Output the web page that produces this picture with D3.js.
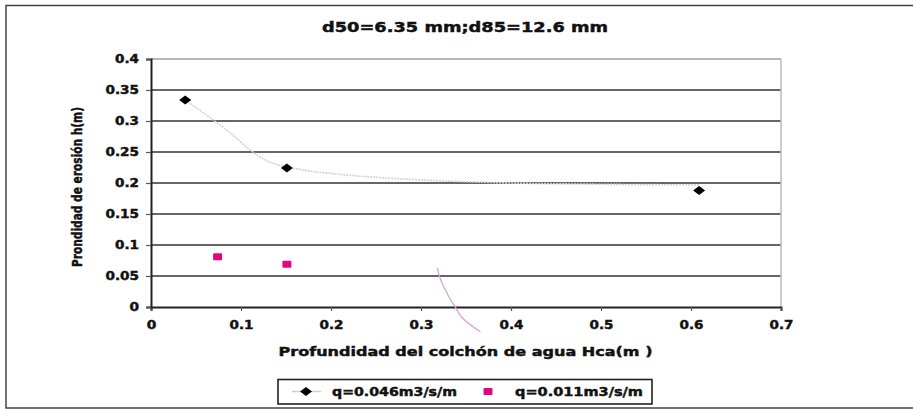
<!DOCTYPE html>
<html><head><meta charset="utf-8">
<script src="https://cdn.jsdelivr.net/npm/d3@7"></script>
<style>body{margin:0;background:#fff}svg{display:block}</style>
</head><body>
<svg id="c" width="913" height="409"></svg>
<script>
// ---- data ----
const title = "d50=6.35 mm;d85=12.6 mm";
const xTitle = "Profundidad del colchón de agua Hca(m )";
const yTitle = "Prondidad de erosión h(m)";
const xTicks = [0, 0.1, 0.2, 0.3, 0.4, 0.5, 0.6, 0.7];
const yTicks = [0, 0.05, 0.1, 0.15, 0.2, 0.25, 0.3, 0.35, 0.4];
const seriesNames = ["q=0.046m3/s/m", "q=0.011m3/s/m"];
const s1x = [0.038, 0.151, 0.609];
const s1y = [0.334, 0.224, 0.188];
const s2x = [0.074, 0.151];
const s2y = [0.081, 0.069];
// faint trend curves
const t1x = [0.038, 0.08, 0.127, 0.165, 0.21, 0.3, 0.4, 0.5, 0.61];
const t1y = [0.334, 0.29, 0.237, 0.222, 0.214, 0.205, 0.2, 0.198, 0.197];
const t2x = [0.318, 0.322, 0.330, 0.338, 0.346, 0.366];
const t2y = [0.063, 0.0435, 0.019, 0.0, -0.0177, -0.040];

const svg = d3.select("#c");
const x = d3.scaleLinear().domain([0, 0.7]).range([151, 781]);
const y = d3.scaleLinear().domain([0, 0.4]).range([307, 59]);
const FONT = "DejaVu Sans, Liberation Sans, Arial, sans-serif";
const tl = s => Array.from(s).reduce((a, c) => a + (c === "." ? 4.8 : 9.6), 0);
const heavy = sel => sel.attr("stroke", "#111").attr("stroke-width", 0.45).attr("paint-order", "stroke");

// outer border
svg.append("rect").attr("x", 6).attr("y", 5.5).attr("width", 1000).attr("height", 402.5)
  .attr("fill", "none").attr("stroke", "#444").attr("stroke-width", 1.5);

// gridlines
svg.append("g").selectAll("line").data(yTicks.filter(d => d > 0)).join("line")
  .attr("x1", x(0)).attr("x2", x(0.7))
  .attr("y1", d => y(d)).attr("y2", d => y(d))
  .attr("stroke", d => d === 0.4 ? "#a0a0a0" : "#333")
  .attr("stroke-width", 1.6);

// plot right border
svg.append("line").attr("x1", x(0.7)).attr("x2", x(0.7)).attr("y1", y(0.4)).attr("y2", y(0))
  .attr("stroke", "#c4b4c4").attr("stroke-width", 1.5);

// axes
const xAxis = svg.append("g").attr("transform", `translate(0,${y(0)})`)
  .call(d3.axisBottom(x).tickValues(xTicks).tickSize(4).tickFormat(d => d === 0 ? "0" : String(d)));
const yAxis = svg.append("g").attr("transform", `translate(${x(0)},0)`)
  .call(d3.axisLeft(y).tickValues(yTicks).tickSize(5).tickFormat(d => d === 0 ? "0" : String(d)));
[xAxis, yAxis].forEach(g => {
  g.select(".domain").attr("stroke", "#222").attr("stroke-width", 2);
  g.selectAll(".tick line").attr("stroke", "#555").attr("stroke-width", 1.2);
  g.selectAll(".tick text").attr("font-family", FONT).attr("font-weight", "bold")
    .attr("font-size", 12).attr("fill", "#111")
    .attr("textLength", function () { return tl(this.textContent); })
    .attr("lengthAdjust", "spacingAndGlyphs")
    .call(heavy);
});
xAxis.selectAll(".tick text").attr("y", 13);
yAxis.selectAll(".tick text").attr("x", -12);

// trend curves
const line = d3.line().x(d => x(d[0])).y(d => y(d[1])).curve(d3.curveMonotoneX);
svg.append("path").datum(t1x.map((v, i) => [v, t1y[i]])).attr("d", line)
  .attr("fill", "none").attr("stroke", "#d2d2d2").attr("stroke-width", 1.6).attr("stroke-dasharray", "2,1");
svg.append("path").datum(t2x.map((v, i) => [v, t2y[i]]))
  .attr("d", d3.line().x(d => x(d[0])).y(d => y(d[1])).curve(d3.curveCatmullRom))
  .attr("fill", "none").attr("stroke", "#d6a6d0").attr("stroke-width", 1.3);

// markers
const diamond = (cx, cy) => `M${cx - 6},${cy}L${cx},${cy - 4.5}L${cx + 6},${cy}L${cx},${cy + 4.5}Z`;
svg.append("g").selectAll("path").data(s1x.map((v, i) => [v, s1y[i]])).join("path")
  .attr("d", d => diamond(x(d[0]), y(d[1]))).attr("fill", "#000");
svg.append("g").selectAll("rect").data(s2x.map((v, i) => [v, s2y[i]])).join("rect")
  .attr("x", d => x(d[0]) - 4.5).attr("y", d => y(d[1]) - 3.5)
  .attr("width", 9).attr("height", 7).attr("rx", 1).attr("fill", "#e2067f");

// title
svg.append("text").attr("x", 465).attr("y", 31.5).attr("text-anchor", "middle")
  .attr("font-family", FONT).attr("font-weight", "bold").attr("font-size", 14)
  .attr("textLength", 286).attr("lengthAdjust", "spacingAndGlyphs").attr("fill", "#111").call(heavy).text(title);

// axis titles
svg.append("text").attr("x", 465.5).attr("y", 355.5).attr("text-anchor", "middle")
  .attr("font-family", FONT).attr("font-weight", "bold").attr("font-size", 13)
  .attr("textLength", 374).attr("lengthAdjust", "spacingAndGlyphs").attr("fill", "#111").call(heavy).text(xTitle);
svg.append("text").attr("transform", "translate(82,187) rotate(-90)").attr("text-anchor", "middle")
  .attr("font-family", FONT).attr("font-weight", "bold").attr("font-size", 13.5)
  .attr("textLength", 160).attr("lengthAdjust", "spacingAndGlyphs").attr("fill", "#111").call(heavy).text(yTitle);

// legend
const lg = svg.append("g");
lg.append("rect").attr("x", 278).attr("y", 379.5).attr("width", 374).attr("height", 24.5)
  .attr("fill", "#fff").attr("stroke", "#222").attr("stroke-width", 1.6);
const legX = [306, 488];
const legTextX = [332, 515];
const legW = [125, 128];
lg.append("line").attr("x1", 292).attr("x2", 321).attr("y1", 391.5).attr("y2", 391.5)
  .attr("stroke", "#d0d0d0").attr("stroke-width", 1.5);
lg.append("path").attr("d", diamond(legX[0], 391.5)).attr("fill", "#000");
lg.append("rect").attr("x", legX[1] - 4.5).attr("y", 388).attr("width", 9).attr("height", 7)
  .attr("rx", 1).attr("fill", "#e2067f");
lg.selectAll("text").data(seriesNames).join("text")
  .attr("x", (d, i) => legTextX[i]).attr("y", 396)
  .attr("font-family", FONT).attr("font-weight", "bold").attr("font-size", 12)
  .attr("textLength", (d, i) => legW[i]).attr("lengthAdjust", "spacingAndGlyphs")
  .attr("fill", "#111").call(heavy).text(d => d);
</script>
</body></html>
